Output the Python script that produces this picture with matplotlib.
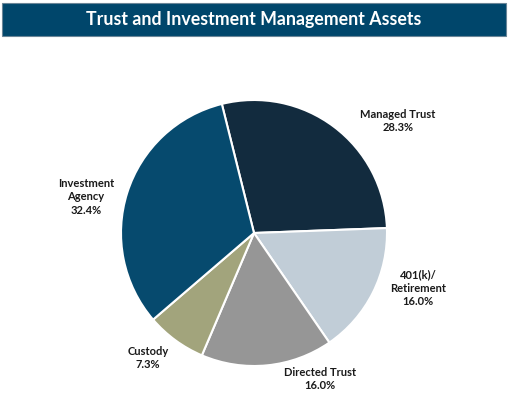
import matplotlib
matplotlib.use('Agg')
from matplotlib import pyplot as plt
from matplotlib.patches import Rectangle

# Данные
categories = ['Managed Trust', '401(k)/\nRetirement', 'Directed Trust', 'Custody', 'Investment\nAgency']
shares = [28.3, 16.0, 16.0, 7.3, 32.4]
colors = ['#122b3e', '#c1cdd7', '#969696', '#a2a47c', '#064a6e']

# положение подписей (в пикселях картинки)
label_px = [(398, 121), (418, 288), (320, 379), (148, 358), (86, 197)]

W, H = 511, 398
cx, cy, r = 254, 233, 133

fig = plt.figure(figsize=(W / 100, H / 100), dpi=100)
fig.patch.set_facecolor('white')
ax = fig.add_axes([0, 0, 1, 1])

ax.pie(shares, colors=colors, startangle=104, counterclock=False, radius=1,
       wedgeprops=dict(edgecolor='white', linewidth=1.5))

# пределы после pie, иначе он их перезаписывает
ax.set_xlim(-cx / r, (W - cx) / r)
ax.set_ylim(-(H - cy) / r, cy / r)
ax.axis('off')

for name, val, (px, py) in zip(categories, shares, label_px):
    ax.text((px - cx) / r, (cy - py) / r, f'{name}\n{val:.1f}%', ha='center', va='center',
            fontsize=8, fontweight='bold', family='Lato', color='#1a1a1a', linespacing=1.3)

# Заголовок
fig.patches.append(Rectangle((2 / W, 1 - 36 / H), 504 / W, 33 / H, transform=fig.transFigure,
                             facecolor='#00466b', edgecolor='#6a8597', linewidth=0.8))
fig.text(254 / W, 1 - 20 / H, 'Trust and Investment Management Assets', ha='center', va='center',
         color='white', fontsize=12.8, fontweight='bold', family='Lato')

fig.savefig('out.png', dpi=100)
